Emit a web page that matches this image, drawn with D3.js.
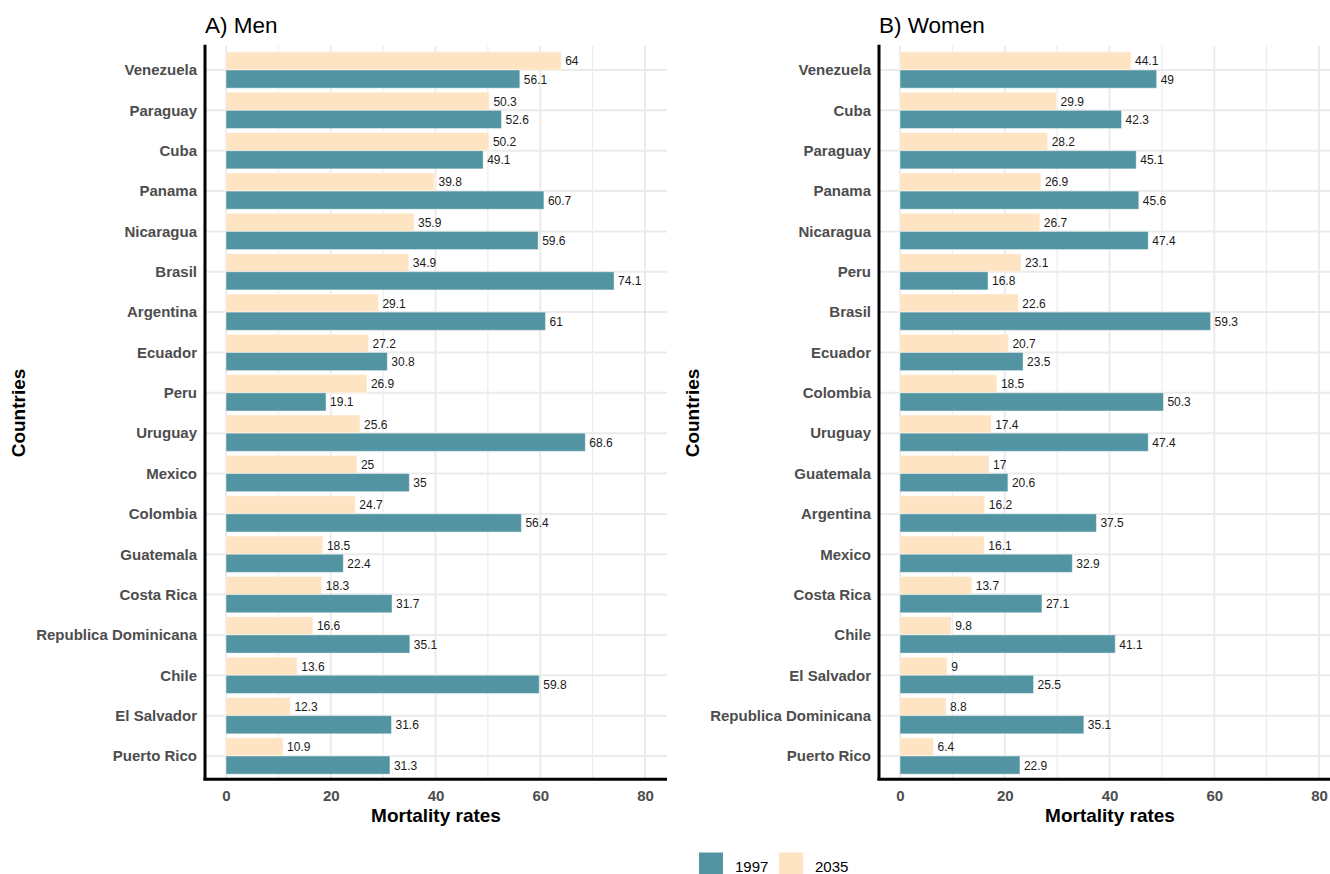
<!DOCTYPE html>
<html>
<head>
<meta charset="utf-8">
<script src="https://cdn.jsdelivr.net/npm/d3@7"></script>
<style>
  html, body { margin: 0; padding: 0; background: #fff; }
  svg { display: block; font-family: "Liberation Sans", Arial, Helvetica, sans-serif; }
</style>
</head>
<body>
<svg id="chart" width="1330" height="874"></svg>
<script>
// ---- Data ----
const menCountries = ["Venezuela","Paraguay","Cuba","Panama","Nicaragua","Brasil","Argentina","Ecuador","Peru","Uruguay","Mexico","Colombia","Guatemala","Costa Rica","Republica Dominicana","Chile","El Salvador","Puerto Rico"];
const men1997 = [56.1,52.6,49.1,60.7,59.6,74.1,61,30.8,19.1,68.6,35,56.4,22.4,31.7,35.1,59.8,31.6,31.3];
const men2035 = [64,50.3,50.2,39.8,35.9,34.9,29.1,27.2,26.9,25.6,25,24.7,18.5,18.3,16.6,13.6,12.3,10.9];

const womenCountries = ["Venezuela","Cuba","Paraguay","Panama","Nicaragua","Peru","Brasil","Ecuador","Colombia","Uruguay","Guatemala","Argentina","Mexico","Costa Rica","Chile","El Salvador","Republica Dominicana","Puerto Rico"];
const women1997 = [49,42.3,45.1,45.6,47.4,16.8,59.3,23.5,50.3,47.4,20.6,37.5,32.9,27.1,41.1,25.5,35.1,22.9];
const women2035 = [44.1,29.9,28.2,26.9,26.7,23.1,22.6,20.7,18.5,17.4,17,16.2,16.1,13.7,9.8,9,8.8,6.4];

const years = ["1997","2035"];
const xTicks = [0,20,40,60,80];
const xMinor = [10,30,50,70];
const panelTitles = ["A) Men","B) Women"];

const colors = { "1997": "#5294a1", "2035": "#ffe4c4" };

const svg = d3.select("#chart");

function drawPanel(opts) {
  const { left, countries, v1997, v2035, title } = opts;
  const top = 45.8, bottom = 780.2;
  const panelLeft = left, panelRight = left + 462;
  const x = d3.scaleLinear().domain([-4.01, 84.2]).range([panelLeft, panelRight]);
  const y = d3.scalePoint().domain(countries).range([top, bottom]).padding(0.6);
  const step = y.step();
  const g = svg.append("g");

  // grid
  g.selectAll(".gmin").data(xMinor).enter().append("line")
    .attr("x1", d => x(d)).attr("x2", d => x(d))
    .attr("y1", top).attr("y2", bottom)
    .attr("stroke", "#ebebeb").attr("stroke-width", 1.1);
  g.selectAll(".gmaj").data(xTicks).enter().append("line")
    .attr("x1", d => x(d)).attr("x2", d => x(d))
    .attr("y1", top).attr("y2", bottom)
    .attr("stroke", "#ebebeb").attr("stroke-width", 2);
  g.selectAll(".gh").data(countries).enter().append("line")
    .attr("x1", panelLeft).attr("x2", panelRight)
    .attr("y1", d => y(d)).attr("y2", d => y(d))
    .attr("stroke", "#ebebeb").attr("stroke-width", 2);

  const half = step * 0.45;
  const rows = countries.map((c, i) => ({ c, a: v1997[i], b: v2035[i] }));

  g.selectAll(".b2035").data(rows).enter().append("rect")
    .attr("x", x(0)).attr("y", d => y(d.c) - half)
    .attr("width", d => x(d.b) - x(0)).attr("height", half)
    .attr("fill", colors["2035"]).attr("stroke", "rgba(255,255,255,0.45)").attr("stroke-width", 1);
  g.selectAll(".b1997").data(rows).enter().append("rect")
    .attr("x", x(0)).attr("y", d => y(d.c))
    .attr("width", d => x(d.a) - x(0)).attr("height", half)
    .attr("fill", colors["1997"]).attr("stroke", "rgba(255,255,255,0.45)").attr("stroke-width", 1);

  g.selectAll(".l2035").data(rows).enter().append("text")
    .attr("x", d => x(d.b) + 4).attr("y", d => y(d.c) - half / 2 + 0.5)
    .attr("dominant-baseline", "central")
    .attr("font-size", 12).attr("fill", "#1a1a1a")
    .text(d => d.b);
  g.selectAll(".l1997").data(rows).enter().append("text")
    .attr("x", d => x(d.a) + 4).attr("y", d => y(d.c) + half / 2 + 0.5)
    .attr("dominant-baseline", "central")
    .attr("font-size", 12).attr("fill", "#1a1a1a")
    .text(d => d.a);

  const ya = g.append("g").attr("transform", `translate(${panelLeft},0)`)
    .call(d3.axisLeft(y).tickSize(0).tickPadding(8));
  ya.select(".domain").remove();
  ya.selectAll("text").attr("font-size", 15).attr("font-weight", "bold")
    .attr("fill", "#4d4d4d").attr("font-family", "Liberation Sans, Arial, sans-serif");

  const xa = g.append("g").attr("transform", `translate(0,${bottom})`)
    .call(d3.axisBottom(x).tickValues(xTicks).tickSize(0).tickPadding(10));
  xa.select(".domain").remove();
  xa.selectAll("text").attr("font-size", 15).attr("font-weight", "bold")
    .attr("fill", "#4d4d4d").attr("font-family", "Liberation Sans, Arial, sans-serif");

  g.append("line").attr("x1", panelLeft).attr("x2", panelLeft)
    .attr("y1", top - 1).attr("y2", bottom).attr("stroke", "#000").attr("stroke-width", 3);
  g.append("line").attr("x1", panelLeft - 1.5).attr("x2", panelRight)
    .attr("y1", bottom - 1).attr("y2", bottom - 1).attr("stroke", "#000").attr("stroke-width", 3);

  g.append("text").attr("x", panelLeft).attr("y", 33)
    .attr("font-size", 22.5).attr("fill", "#000").text(title);

  g.append("text").attr("x", (panelLeft + panelRight) / 2).attr("y", 822)
    .attr("text-anchor", "middle").attr("font-size", 19).attr("font-weight", "bold")
    .attr("fill", "#000").text("Mortality rates");
  g.append("text")
    .attr("transform", `translate(${panelLeft - 180},${(top + bottom) / 2}) rotate(-90)`)
    .attr("text-anchor", "middle").attr("font-size", 19).attr("font-weight", "bold")
    .attr("fill", "#000").text("Countries");
}

drawPanel({ left: 205, countries: menCountries, v1997: men1997, v2035: men2035, title: panelTitles[0] });
drawPanel({ left: 879, countries: womenCountries, v1997: women1997, v2035: women2035, title: panelTitles[1] });

// legend
const lg = svg.append("g");
years.forEach((yr, i) => {
  const lx = 699 + i * 80;
  lg.append("rect").attr("x", lx).attr("y", 852.5).attr("width", 24).attr("height", 24)
    .attr("fill", colors[yr]);
  lg.append("text").attr("x", lx + 36).attr("y", 866).attr("dominant-baseline", "central")
    .attr("font-size", 15).attr("fill", "#000").text(yr);
});
</script>
</body>
</html>
